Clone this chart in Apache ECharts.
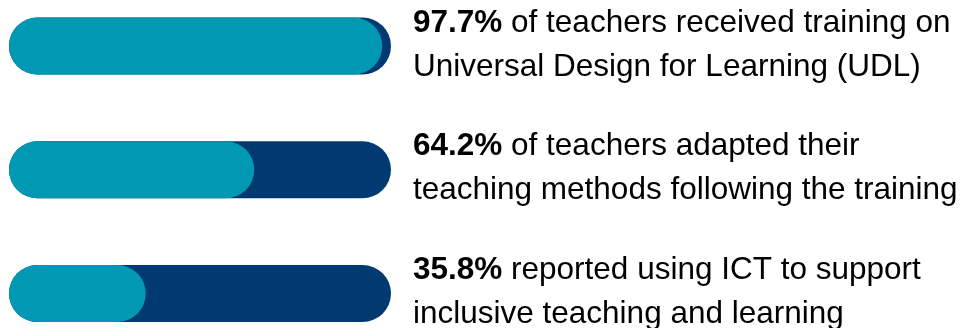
<!DOCTYPE html>
<html>
<head>
<meta charset="utf-8">
<script src="https://cdn.jsdelivr.net/npm/echarts@6/dist/echarts.min.js"></script>
<style>
html,body{margin:0;padding:0;background:#fff;}
#c{width:967px;height:328px;}
</style>
</head>
<body>
<div id="c"></div>
<script>
const categories = ['UDL training', 'Adapted methods', 'ICT use'];
const values = [97.7, 64.2, 35.8];
const totals = [100, 100, 100];
const boldLabels = ['97.7%', '64.2%', '35.8%'];
const line1 = ['of teachers received training on', 'of teachers adapted their', 'reported using ICT to support'];
const line2 = ['Universal Design for Learning (UDL)', 'teaching methods following the training', 'inclusive teaching and learning'];

const chart = echarts.init(document.getElementById('c'));
const BAR_H = 57;
const FONT = 'Liberation Sans, Arial, sans-serif';
chart.setOption({
  animation: false,
  grid: { left: 9, right: 576, top: 46, bottom: 34.5 },
  xAxis: { type: 'value', min: 0, max: 100, show: false },
  yAxis: { type: 'category', data: categories, inverse: true, show: false, boundaryGap: false },
  series: [
    {
      type: 'bar',
      data: totals,
      barWidth: BAR_H,
      barGap: '-100%',
      itemStyle: { color: '#003a70', borderRadius: BAR_H / 2 },
      label: {
        show: true,
        position: 'right',
        distance: 22,
        offset: [0, -1],
        formatter: function (p) {
          const i = p.dataIndex;
          return '{b|' + boldLabels[i] + '}{n| ' + line1[i] + '}\n{n|' + line2[i] + '}';
        },
        rich: {
          b: { fontFamily: FONT, fontSize: 31.5, fontWeight: 'bold', color: '#000', lineHeight: 44 },
          n: { fontFamily: FONT, fontSize: 31.5, color: '#000', lineHeight: 44 }
        }
      },
      z: 1
    },
    {
      type: 'bar',
      data: values,
      barWidth: BAR_H,
      barGap: '-100%',
      itemStyle: { color: '#0098b2', borderRadius: BAR_H / 2 },
      z: 2
    }
  ]
});
</script>
</body>
</html>
